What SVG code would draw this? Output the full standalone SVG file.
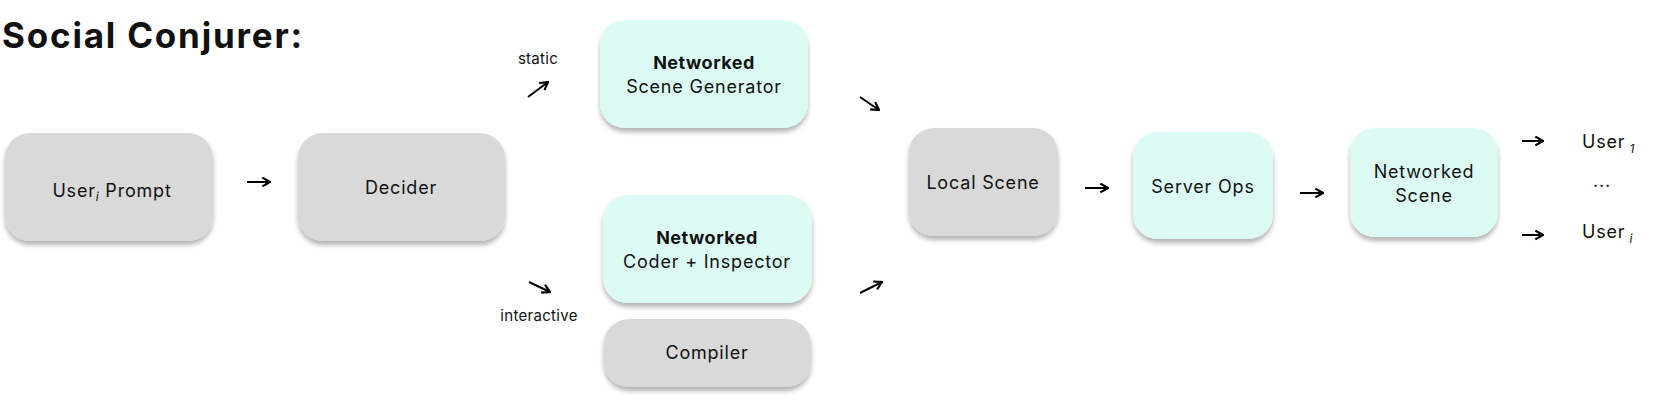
<svg xmlns="http://www.w3.org/2000/svg" width="1664" height="419" viewBox="0 0 1664 419">
<style>
text{font-family:Inter,"Noto Sans",sans-serif;fill:#111;}
.t{font-size:18px;text-anchor:middle;letter-spacing:0.8px;}
.b{font-weight:700;letter-spacing:0.5px;}
.s{font-size:15px;text-anchor:middle;letter-spacing:0.3px;}
.u{font-size:18px;letter-spacing:0.8px;}
.sub{font-size:12px;font-style:italic;}
.g{fill:#d9d9d9;filter:url(#sh);}
.m{fill:#dbfbf4;filter:url(#sh);}
.c path{fill:none;stroke:#000;stroke-width:2;marker-end:url(#ah);}
</style>
<defs>
<filter id="sh" x="-10%" y="-10%" width="120%" height="130%">
<feGaussianBlur in="SourceAlpha" stdDeviation="2.5"/>
<feOffset dy="4" result="o"/>
<feComponentTransfer><feFuncA type="linear" slope="0.3"/></feComponentTransfer>
<feMerge><feMergeNode/><feMergeNode in="SourceGraphic"/></feMerge>
</filter>
<marker id="ah" viewBox="0 0 10 10" refX="9" refY="5" markerWidth="11" markerHeight="11" orient="auto" markerUnits="userSpaceOnUse">
<path d="M2,1 L9,5 L2,9" fill="none" stroke="#000" stroke-width="2"/>
</marker>
</defs>
<text x="2" y="48" style="font-size:35px;font-weight:700;letter-spacing:1.8px;">Social Conjurer:</text>
<g id="user-prompt"><rect class="g" x="5" y="133" width="208" height="108" rx="25"/><text class="t" x="112" y="197">User<tspan class="sub" dy="4">i</tspan><tspan dy="-4"> Prompt</tspan></text></g>
<g id="decider"><rect class="g" x="298" y="133" width="207" height="108" rx="25"/><text class="t" x="401" y="194">Decider</text></g>
<g id="scene-generator"><rect class="m" x="600" y="20" width="208" height="108" rx="25"/><text class="t b" x="704" y="69">Networked</text><text class="t" x="704" y="93">Scene Generator</text></g>
<g id="coder-inspector"><rect class="m" x="603" y="195" width="209" height="108" rx="25"/><text class="t b" x="707" y="244">Networked</text><text class="t" x="707" y="268">Coder + Inspector</text></g>
<g id="compiler"><rect class="g" x="604" y="319" width="207" height="68" rx="25"/><text class="t" x="707" y="359">Compiler</text></g>
<g id="local-scene"><rect class="g" x="909" y="128" width="149" height="108" rx="25"/><text class="t" x="983" y="189">Local Scene</text></g>
<g id="server-ops"><rect class="m" x="1133" y="132" width="140" height="107" rx="25"/><text class="t" x="1203" y="193">Server Ops</text></g>
<g id="networked-scene"><rect class="m" x="1350" y="128" width="148" height="109" rx="25"/><text class="t" x="1424" y="178">Networked</text><text class="t" x="1424" y="202">Scene</text></g>
<g id="labels">
<text class="s" x="538" y="64">static</text>
<text class="s" x="539" y="321">interactive</text>
<text class="u" x="1582" y="148">User<tspan class="sub" dx="4" dy="5">1</tspan></text>
<text class="t" x="1602" y="187">...</text>
<text class="u" x="1582" y="238">User<tspan class="sub" dx="4" dy="5">i</tspan></text>
</g>
<g id="connectors" class="c">
<path d="M247,182 H270"/>
<path d="M528,97 L548,82"/>
<path d="M529,282 L550,292"/>
<path d="M860,97 L879,110"/>
<path d="M860,293 L882,282"/>
<path d="M1085,188 H1108"/>
<path d="M1300,193 H1323"/>
<path d="M1522,141 H1543"/>
<path d="M1522,235 H1543"/>
</g>
</svg>
